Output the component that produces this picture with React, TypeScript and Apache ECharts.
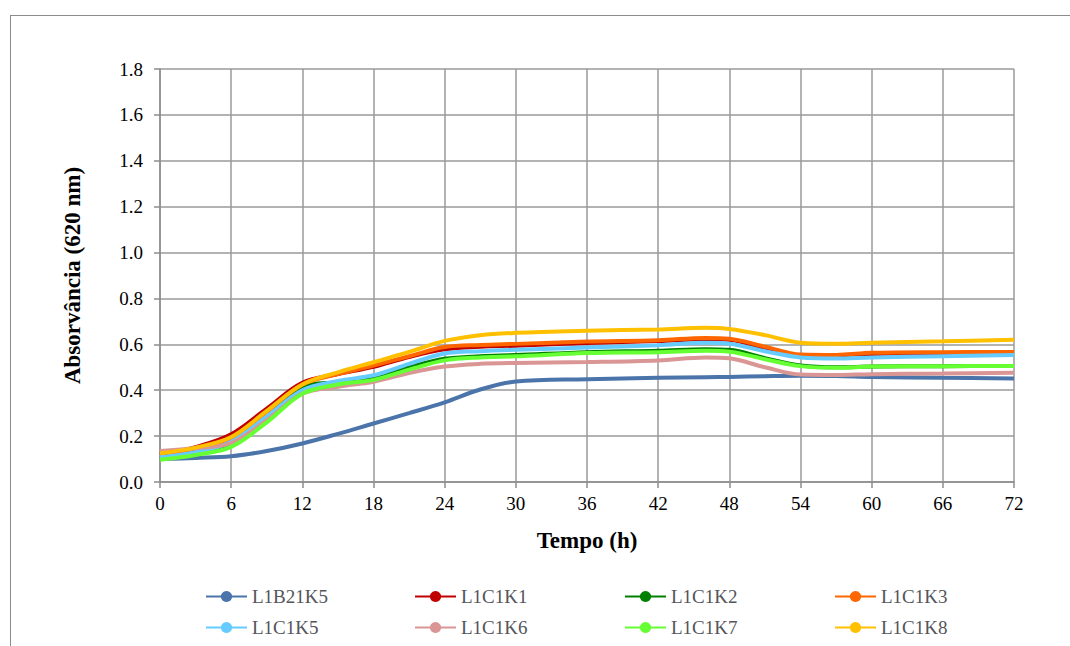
import React, { useEffect, useRef } from "react";
import * as echarts from "echarts";

const hours = [0, 3, 6, 9, 12, 15, 18, 21, 24, 27, 30, 36, 42, 46, 48, 51, 54, 57, 60, 66, 72];

const seriesNames = ["L1B21K5", "L1C1K1", "L1C1K2", "L1C1K3", "L1C1K5", "L1C1K6", "L1C1K7", "L1C1K8"];
const seriesColors = ["#4a74aa", "#c00000", "#008000", "#ff6600", "#66ccff", "#d99694", "#66ff33", "#ffc000"];

const L1B21K5 = [0.1, 0.105, 0.112, 0.135, 0.168, 0.21, 0.255, 0.3, 0.347, 0.403, 0.438, 0.448, 0.454, 0.457, 0.458, 0.461, 0.463, 0.462, 0.458, 0.454, 0.451];
const L1C1K1 = [0.12, 0.152, 0.208, 0.32, 0.432, 0.47, 0.502, 0.545, 0.578, 0.59, 0.594, 0.606, 0.614, 0.622, 0.62, 0.58, 0.552, 0.553, 0.558, 0.562, 0.564];
const L1C1K2 = [0.102, 0.125, 0.165, 0.28, 0.412, 0.435, 0.452, 0.5, 0.537, 0.548, 0.553, 0.566, 0.572, 0.579, 0.576, 0.54, 0.508, 0.5, 0.503, 0.505, 0.506];
const L1C1K3 = [0.115, 0.14, 0.19, 0.305, 0.425, 0.47, 0.508, 0.548, 0.588, 0.597, 0.602, 0.612, 0.618, 0.628, 0.624, 0.59, 0.556, 0.554, 0.563, 0.566, 0.567];
const L1C1K5 = [0.108, 0.13, 0.175, 0.285, 0.4, 0.44, 0.465, 0.515, 0.56, 0.57, 0.576, 0.586, 0.596, 0.607, 0.603, 0.57, 0.543, 0.538, 0.543, 0.548, 0.553];
const L1C1K6 = [0.135, 0.148, 0.17, 0.27, 0.385, 0.415, 0.437, 0.475, 0.503, 0.515, 0.519, 0.523, 0.53, 0.543, 0.539, 0.5, 0.468, 0.466, 0.47, 0.473, 0.476];
const L1C1K7 = [0.097, 0.118, 0.153, 0.26, 0.385, 0.425, 0.445, 0.49, 0.53, 0.543, 0.548, 0.562, 0.566, 0.572, 0.568, 0.535, 0.505, 0.498, 0.503, 0.505, 0.506];
const L1C1K8 = [0.125, 0.15, 0.196, 0.31, 0.425, 0.478, 0.522, 0.567, 0.615, 0.64, 0.65, 0.659, 0.665, 0.672, 0.667, 0.64, 0.607, 0.602, 0.607, 0.613, 0.62];

const seriesValues = [L1B21K5, L1C1K1, L1C1K2, L1C1K3, L1C1K5, L1C1K6, L1C1K7, L1C1K8];

const legendLefts = [200, 409, 619, 829];
const legendTops = [582, 613];

const FONT = "Liberation Serif";

export default function App() {
  const ref = useRef<HTMLDivElement>(null);
  useEffect(() => {
    document.body.style.margin = "0";
    const chart = echarts.init(ref.current!, null, { renderer: "svg" });
    const legends = seriesNames.map((name, i) => ({
      data: [name],
      left: legendLefts[i % 4],
      top: legendTops[Math.floor(i / 4)],
      itemWidth: 41,
      itemHeight: 14,
      textStyle: { fontFamily: FONT, fontSize: 19 },
    }));
    chart.setOption({
      animation: false,
      legend: legends,
      grid: { left: 160, top: 69, width: 854, height: 413 },
      xAxis: {
        type: "value",
        min: 0,
        max: 72,
        interval: 6,
        name: "Tempo (h)",
        nameLocation: "middle",
        nameGap: 47,
        nameTextStyle: { fontFamily: FONT, fontSize: 23, fontWeight: "bold", color: "#000" },
        axisLine: { show: true, lineStyle: { color: "#8c8c8c", width: 1.5 } },
        axisTick: { show: true, length: 6, lineStyle: { color: "#8c8c8c", width: 1.5 } },
        axisLabel: { fontFamily: FONT, fontSize: 19, color: "#000", margin: 12 },
        splitLine: { show: true, lineStyle: { color: "#9a9a9a", width: 1.5 } },
      },
      yAxis: {
        type: "value",
        min: 0,
        max: 1.8,
        interval: 0.2,
        name: "Absorvância (620 nm)",
        nameLocation: "middle",
        nameGap: 76,
        nameRotate: 90,
        nameTextStyle: { fontFamily: FONT, fontSize: 23, fontWeight: "bold", color: "#000" },
        axisLine: { show: true, lineStyle: { color: "#8c8c8c", width: 1.5 } },
        axisTick: { show: true, length: 6, lineStyle: { color: "#8c8c8c", width: 1.5 } },
        axisLabel: {
          fontFamily: FONT,
          fontSize: 19,
          color: "#000",
          margin: 17,
          formatter: (v: number) => v.toFixed(1),
        },
        splitLine: { show: true, lineStyle: { color: "#9a9a9a", width: 1.5 } },
      },
      series: seriesNames.map((name, i) => ({
        name,
        type: "line",
        data: hours.map((h, j) => [h, seriesValues[i][j]]),
        smooth: 0.35,
        symbol: "none",
        color: seriesColors[i],
        lineStyle: { width: 4, color: seriesColors[i] },
      })),
    });
    return () => chart.dispose();
  }, []);
  return (
    <div style={{ position: "relative", width: 1070, height: 646, overflow: "hidden", background: "#fff" }}>
      <div
        style={{
          position: "absolute",
          left: 10,
          top: 15,
          width: 1100,
          height: 700,
          border: "1.3px solid #8c8c8c",
          boxSizing: "border-box",
        }}
      />
      <div ref={ref} style={{ position: "absolute", left: 0, top: 0, width: 1070, height: 646 }} />
    </div>
  );
}
